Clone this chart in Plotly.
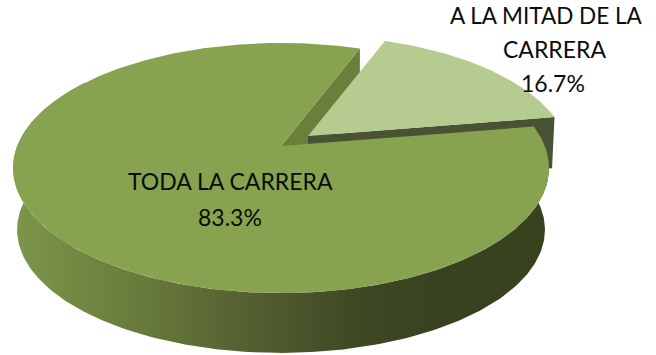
import numpy as np
import plotly.graph_objects as go

categories = ["TODA LA CARRERA", "A LA MITAD DE LA CARRERA"]
values = [83.3, 16.7]
label_lines = [["TODA LA CARRERA"], ["A LA MITAD DE LA", "CARRERA"]]

# pie geometry (page pixels): perspective disc
W, H = 656, 355
CX, AY = 281, 146       # projected pie centre
A, B, K = 263.8, 121.2, 0.176
DEPTH = 62
BOTTOM_SCALE = 0.985
FIRST_ANGLE = 80.5      # clockwise from "up"
EXPLODE = (27, -10)
WEDGE_SCALE = 0.975


def proj(phi_deg, dx=0, dy=0, scale=1.0):
    p = np.radians(np.asarray(phi_deg, dtype=float))
    w = 1 + K * np.cos(p)
    return CX + dx + scale * A * np.sin(p) / w, AY + dy - scale * B * np.cos(p) / w


shares = np.array(values) / sum(values) * 360
main_a = np.linspace(FIRST_ANGLE, FIRST_ANGLE + shares[0], 361)
wedge_a = np.linspace(FIRST_ANGLE + shares[0], FIRST_ANGLE + 360, 91)

fig = go.Figure()


def poly(xs, ys, color=None, **kw):
    args = dict(x=np.asarray(xs), y=np.asarray(ys), mode="lines", fill="toself",
                line=dict(width=0), hoverinfo="skip", showlegend=False)
    if color:
        args["fillcolor"] = color
    args.update(kw)
    fig.add_trace(go.Scatter(**args))


# inner cut face of the main slice (far edge)
rx, ry = proj(main_a[-1])
poly([CX, rx, rx, CX], [AY, ry, ry + 55, AY + 55], "#6b7f3a")

# cut face of the exploded slice
ex, ey = EXPLODE
rx, ry = proj(wedge_a[-1], ex, ey, WEDGE_SCALE)
tx, ty = proj(wedge_a[-1], ex, ey + 51, WEDGE_SCALE * 0.99)
poly([CX + ex, rx, tx, CX + ex], [AY + ey, ry, ty, AY + ey + 51], "#4a5234")

# top of the exploded slice
wx, wy = proj(wedge_a, ex, ey, WEDGE_SCALE)
poly(np.r_[CX + ex, wx], np.r_[AY + ey, wy], "#b5cb90")

# outer wall of the main slice
wall_a = np.linspace(FIRST_ANGLE, 305, 261)
tx, ty = proj(wall_a)
bx, by = proj(wall_a, 0, DEPTH, BOTTOM_SCALE)
poly(np.r_[tx, bx[::-1]], np.r_[ty, by[::-1]],
     fillgradient=dict(type="horizontal", start=14, stop=545,
                       colorscale=[[0, "#7d964a"], [0.2, "#6c7f3e"], [0.45, "#535f30"],
                                   [0.65, "#3e4824"], [0.8, "#38421f"], [1, "#38421f"]]))

# top of the main slice
mx, my = proj(main_a)
poly(np.r_[CX, mx, CX], np.r_[AY, my, AY], "#87a34f")

FONT = dict(family="Lato, Open Sans, sans-serif", size=22.5, color="#0c0c0c")
texts = [
    (230, 181, label_lines[0][0], 23),
    (230, 217, f"{values[0]:.1f}%", 23),
    (546, 15, label_lines[1][0], 22.5),
    (554, 49, label_lines[1][1], 23),
    (553, 83, f"{values[1]:.1f}%", 23),
]
for x, y, t, s in texts:
    fig.add_annotation(x=x, y=y, text=t, showarrow=False, font={**FONT, "size": s},
                       xanchor="center", yanchor="middle")

fig.update_layout(
    width=W, height=H, margin=dict(l=0, r=0, t=0, b=0),
    paper_bgcolor="white", plot_bgcolor="white", showlegend=False,
    xaxis=dict(range=[0, W], visible=False, fixedrange=True),
    yaxis=dict(range=[H, 0], visible=False, fixedrange=True),
)
fig.write_html("out.html", config=dict(displayModeBar=False),
               post_script="document.body.style.margin='0';document.body.style.overflow='hidden';")
